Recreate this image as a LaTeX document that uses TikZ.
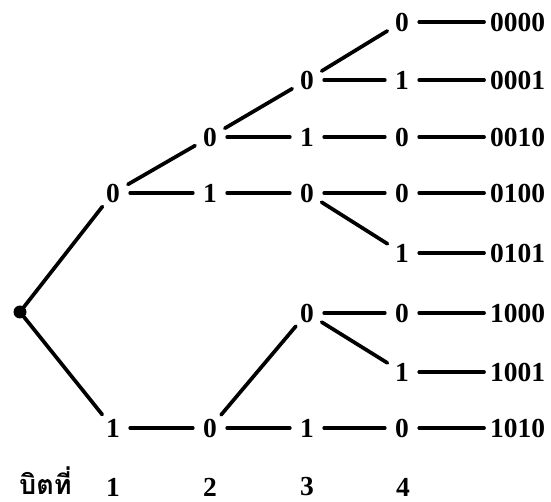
\documentclass[tikz,border=0pt]{standalone}
\usepackage{fontspec}
\setmainfont{Liberation Serif}
\newfontfamily\thaifont[Script=Thai]{Loma}
\begin{document}
\begin{tikzpicture}[x=1pt,y=-1pt,
  bit/.style={circle,minimum size=34pt,inner sep=0pt,font=\fontsize{27.5}{30}\selectfont\bfseries},
  leaf/.style={anchor=west,inner sep=6pt,font=\fontsize{27.5}{30}\selectfont\bfseries},
  axis/.style={inner sep=0pt,font=\fontsize{27.5}{30}\selectfont\bfseries},
  edge/.style={line width=3.7pt,line cap=round}]
\useasboundingbox (0,0) rectangle (551,502);
\node[circle,fill,minimum size=13pt,inner sep=0pt] (r) at (20,312) {};
\node[bit] (a0) at (113,193) {0};
\node[bit] (a1) at (113,428) {1};
\node[bit] (b0) at (210,137) {0};
\node[bit] (b1) at (210,193) {1};
\node[bit] (b2) at (210,428) {0};
\node[bit] (c0) at (307,80) {0};
\node[bit] (c1) at (307,137) {1};
\node[bit] (c2) at (307,193) {0};
\node[bit] (c3) at (307,313) {0};
\node[bit] (c4) at (307,428) {1};
\node[bit] (d0) at (402,22) {0};
\node[bit] (d1) at (402,80) {1};
\node[bit] (d2) at (402,137) {0};
\node[bit] (d3) at (402,193) {0};
\node[bit] (d4) at (402,253) {1};
\node[bit] (d5) at (402,313) {0};
\node[bit] (d6) at (402,372) {1};
\node[bit] (d7) at (402,428) {0};
\node[leaf] (l0) at (484,22) {0000};
\node[leaf] (l1) at (484,80) {0001};
\node[leaf] (l2) at (484,137) {0010};
\node[leaf] (l3) at (484,193) {0100};
\node[leaf] (l4) at (484,253) {0101};
\node[leaf] (l5) at (484,313) {1000};
\node[leaf] (l6) at (484,372) {1001};
\node[leaf] (l7) at (484,428) {1010};
\node[inner sep=0pt,anchor=base west,font=\fontsize{27}{30}\selectfont] (t) at (19,494) {\thaifont\bfseries บิตที่};
\node[axis] (t1) at (113,487) {1};
\node[axis] (t2) at (210,487) {2};
\node[axis] (t3) at (307,487) {3};
\node[axis] (t4) at (403,487) {4};
\foreach \u/\v in {r/a0,r/a1,a0/b0,a0/b1,b0/c0,b0/c1,b1/c2,a1/b2,b2/c3,b2/c4,
  c0/d0,c0/d1,c1/d2,c2/d3,c2/d4,c3/d5,c3/d6,c4/d7,
  d0/l0,d1/l1,d2/l2,d3/l3,d4/l4,d5/l5,d6/l6,d7/l7}
  \draw[edge] (\u) -- (\v);
\end{tikzpicture}
\end{document}
